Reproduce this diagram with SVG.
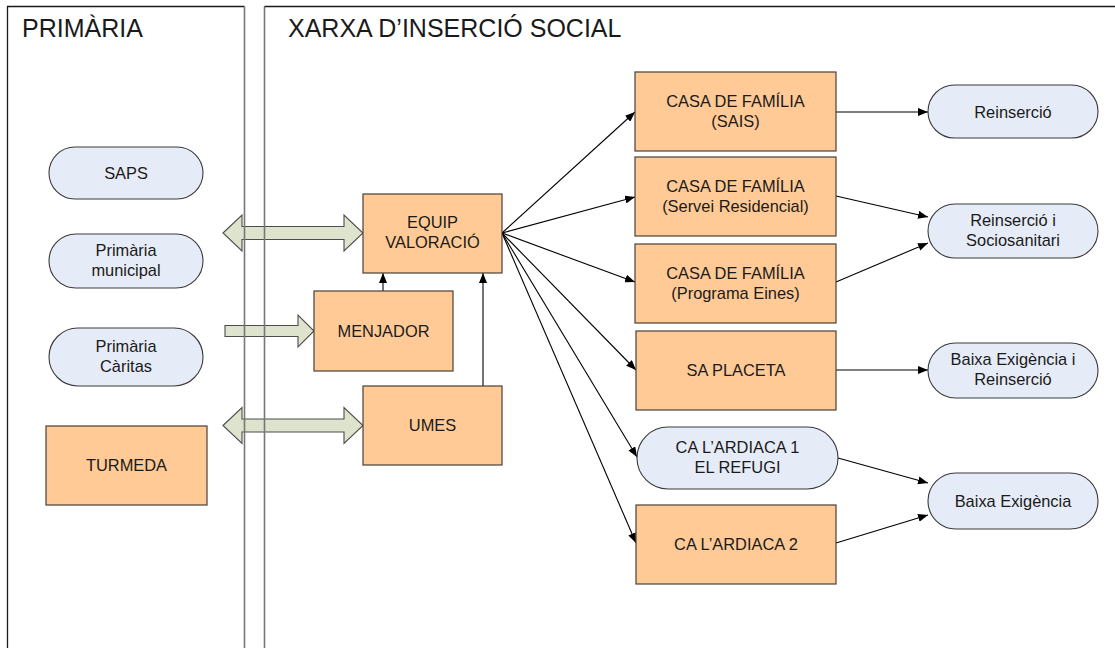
<svg xmlns="http://www.w3.org/2000/svg" width="1115" height="648" viewBox="0 0 1115 648">
<style>
text{font-family:"Liberation Sans",Arial,sans-serif;font-size:16.4px;fill:#1a1a1a;text-anchor:middle}
.title{font-size:25px;text-anchor:start}
.box{fill:#FFCA96;stroke:#4a4036;stroke-width:1.2}
.pill{fill:#E6ECF7;stroke:#3a3a3a;stroke-width:1.1}
.big{fill:#DDE3CC;stroke:#4d4d4d;stroke-width:1.1}
.con{fill:none;stroke:#000;stroke-width:1.1}
.lane{fill:none;stroke:#777;stroke-width:1.6}
</style>
<defs>
<marker id="ah" viewBox="0 0 10 8" refX="10" refY="4" markerWidth="10" markerHeight="8" markerUnits="userSpaceOnUse" orient="auto">
<path d="M0,0 L10,4 L0,8 Z" fill="#000"/>
</marker>
</defs>
<rect width="1115" height="648" fill="#fff"/>
<g id="bigarrows">
<path class="big" d="M223,233 L242,215 L242,226.5 L344,226.5 L344,215 L363,233 L344,251 L344,239.5 L242,239.5 L242,251 Z"/>
<path class="big" d="M225,325.5 L298,325.5 L298,315 L314,331 L298,347 L298,336.5 L225,336.5 Z"/>
<path class="big" d="M223,425.5 L242,407.5 L242,419 L344,419 L344,407.5 L363,425.5 L344,443.5 L344,432 L242,432 L242,443.5 Z"/>
</g>
<g id="lanes">
<path d="M7.5,648 V6.5 H244.5" fill="none" stroke="#1a1a1a" stroke-width="1.3"/>
<path class="lane" d="M244.5,6.5 V648"/>
<path class="lane" d="M264.5,648 V6.5"/>
<path d="M264.5,6.5 H1115" fill="none" stroke="#1a1a1a" stroke-width="1.3"/>
<text class="title" x="22" y="37">PRIMÀRIA</text>
<text class="title" x="288" y="37">XARXA D’INSERCIÓ SOCIAL</text>
</g>
<g id="connectors">
<line class="con" x1="383" y1="291" x2="383" y2="273" marker-end="url(#ah)"/>
<line class="con" x1="483" y1="386" x2="483" y2="273" marker-end="url(#ah)"/>
<line class="con" x1="502" y1="233" x2="635" y2="112" marker-end="url(#ah)"/>
<line class="con" x1="502" y1="233" x2="635" y2="197" marker-end="url(#ah)"/>
<line class="con" x1="502" y1="233" x2="635" y2="282" marker-end="url(#ah)"/>
<line class="con" x1="502" y1="233" x2="636" y2="370" marker-end="url(#ah)"/>
<line class="con" x1="502" y1="233" x2="637" y2="457" marker-end="url(#ah)"/>
<line class="con" x1="502" y1="233" x2="636" y2="543" marker-end="url(#ah)"/>
<line class="con" x1="836" y1="112" x2="928" y2="112" marker-end="url(#ah)"/>
<line class="con" x1="836" y1="196" x2="928" y2="217" marker-end="url(#ah)"/>
<line class="con" x1="836" y1="282" x2="928" y2="243" marker-end="url(#ah)"/>
<line class="con" x1="836" y1="370" x2="928" y2="370" marker-end="url(#ah)"/>
<line class="con" x1="838" y1="458" x2="928" y2="483" marker-end="url(#ah)"/>
<line class="con" x1="836" y1="543" x2="928" y2="515" marker-end="url(#ah)"/>
</g>
<g id="saps"><rect class="pill" x="49" y="147" width="154" height="52" rx="26"/><text x="126" y="179">SAPS</text></g>
<g id="primaria-municipal"><rect class="pill" x="49" y="234" width="154" height="54" rx="27"/><text x="126" y="256">Primària</text><text x="126" y="276">municipal</text></g>
<g id="primaria-caritas"><rect class="pill" x="49" y="328" width="154" height="58" rx="29"/><text x="126" y="352">Primària</text><text x="126" y="372">Càritas</text></g>
<g id="turmeda"><rect class="box" x="46" y="426" width="161" height="79"/><text x="126.5" y="471">TURMEDA</text></g>
<g id="equip"><rect class="box" x="363" y="194" width="139" height="79"/><text x="432.5" y="228">EQUIP</text><text x="432.5" y="248">VALORACIÓ</text></g>
<g id="menjador"><rect class="box" x="314" y="291" width="139" height="80"/><text x="383.5" y="337">MENJADOR</text></g>
<g id="umes"><rect class="box" x="363" y="386" width="139" height="79"/><text x="432.5" y="431">UMES</text></g>
<g id="casa-sais"><rect class="box" x="635" y="72" width="201" height="79"/><text x="735.5" y="107">CASA DE FAMÍLIA</text><text x="735.5" y="127">(SAIS)</text></g>
<g id="casa-servei"><rect class="box" x="635" y="157" width="201" height="79"/><text x="735.5" y="192">CASA DE FAMÍLIA</text><text x="735.5" y="212">(Servei Residencial)</text></g>
<g id="casa-programa"><rect class="box" x="635" y="244" width="201" height="79"/><text x="735.5" y="279">CASA DE FAMÍLIA</text><text x="735.5" y="299">(Programa Eines)</text></g>
<g id="sa-placeta"><rect class="box" x="636" y="331" width="200" height="79"/><text x="736" y="376">SA PLACETA</text></g>
<g id="ca-ardiaca-1"><rect class="pill" x="637" y="427" width="201" height="62" rx="31"/><text x="737.5" y="453">CA L’ARDIACA 1</text><text x="737.5" y="473">EL REFUGI</text></g>
<g id="ca-ardiaca-2"><rect class="box" x="636" y="505" width="200" height="79"/><text x="736" y="550">CA L’ARDIACA 2</text></g>
<g id="reinsercio"><rect class="pill" x="928" y="85" width="170" height="53" rx="26.5"/><text x="1013" y="117.5">Reinserció</text></g>
<g id="reinsercio-socio"><rect class="pill" x="928" y="204" width="170" height="54" rx="27"/><text x="1013" y="226">Reinserció i</text><text x="1013" y="246">Sociosanitari</text></g>
<g id="baixa-reinsercio"><rect class="pill" x="928" y="343" width="170" height="55" rx="27.5"/><text x="1013" y="365">Baixa Exigència i</text><text x="1013" y="385">Reinserció</text></g>
<g id="baixa"><rect class="pill" x="928" y="473" width="170" height="56" rx="28"/><text x="1013" y="507">Baixa Exigència</text></g>
</svg>
